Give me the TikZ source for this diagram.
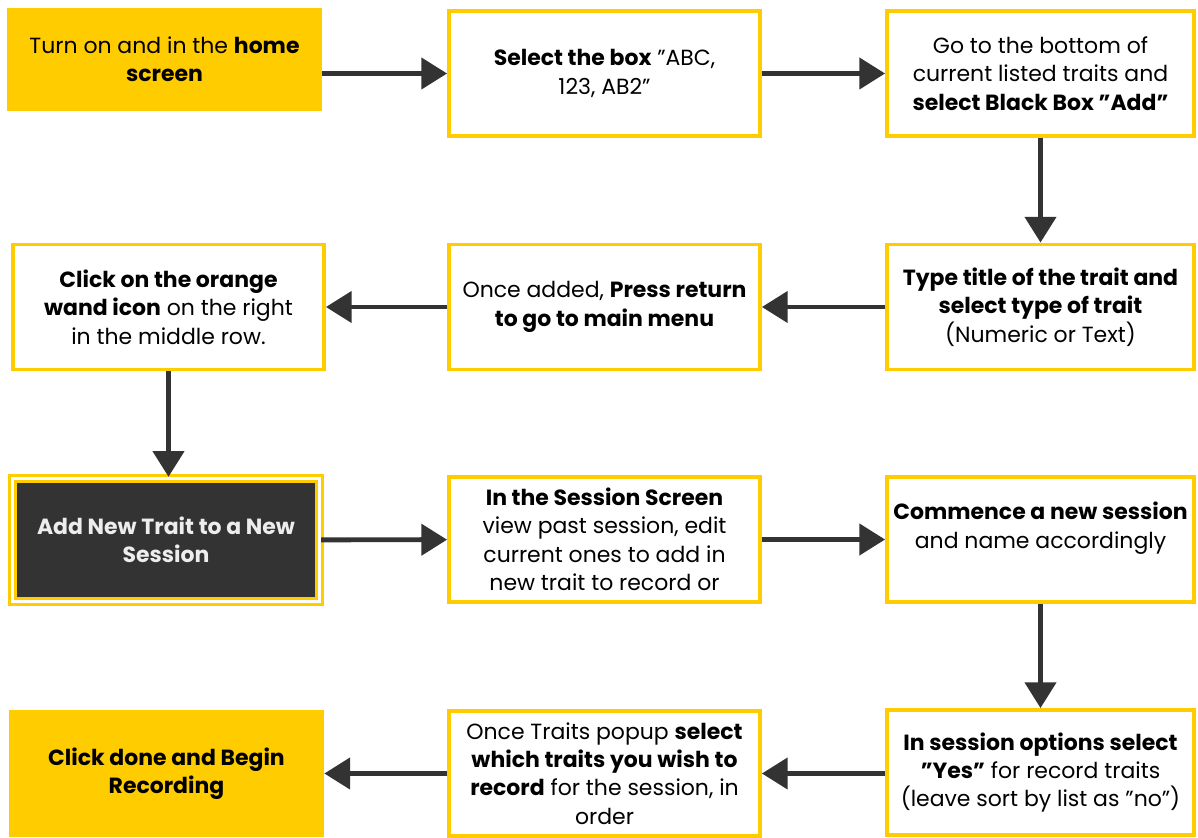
\documentclass[tikz,border=0pt]{standalone}
\usepackage{fontspec}
\setmainfont{Poppins}
\usetikzlibrary{arrows.meta}
\definecolor{gold}{HTML}{FFCC00}
\definecolor{charcoal}{HTML}{333333}
\begin{document}
\begin{tikzpicture}[x=0.02cm, y=-0.02cm,
    every node/.style={font=\fontsize{12.5}{16.2}\selectfont, align=center, inner sep=0pt},
    goldbox/.style={fill=gold, minimum width=6.3cm, minimum height=#1},
    stepbox/.style={draw=gold, line width=2.2pt, fill=white, minimum width=#1, minimum height=2.5cm},
    darkbox/.style={draw=gold, double=white, double distance=1.2pt, line width=1.9pt, fill=charcoal,
        text=white!93!black, font=\fontsize{12.5}{16.2}\selectfont\bfseries, minimum width=6.14cm, minimum height=2.46cm},
    flow/.style={draw=charcoal, line width=2.8pt, -{Triangle[length=14.7pt,width=17.6pt]}}]
    \useasboundingbox (0,0) rectangle (1198,838);

    % Row 1
    \node[goldbox=2.06cm] (home) at (164.5,59.5) {Turn on and in the \textbf{home}\\ \textbf{screen}};
    \node[stepbox=6.22cm] (selbox) at (604.5,73.5) {\textbf{Select the box} "ABC,\\ 123, AB2"};
    \node[stepbox=6.14cm] (bottom) at (1040.5,73.5) {Go to the bottom of\\ current listed traits and\\ \textbf{select Black Box "Add"}};

    % Row 2
    \node[stepbox=6.14cm] (title) at (1040.5,307) {\textbf{Type title of the trait and}\\ \textbf{select type of trait}\\ (Numeric or Text)};
    \node[stepbox=6.22cm] (ret) at (604.5,307) {Once added, \textbf{Press return}\\ \textbf{to go to main menu}};
    \node[stepbox=6.22cm] (wand) at (168.5,307) {\textbf{Click on the orange}\\ \textbf{wand icon} on the right\\ in the middle row.};

    % Row 3
    \node[darkbox] (newtrait) at (166,540) {Add New Trait to a New\\ Session};
    \node[stepbox=6.22cm] (screen) at (604.5,539.5) {\textbf{In the Session Screen}\\ view past session, edit\\ current ones to add in\\ new trait to record or};
    \node[stepbox=6.14cm] (commence) at (1040.5,539.5) {\textbf{Commence a new session}\\ and name accordingly\\ \mbox{}};

    % Row 4
    \node[stepbox=6.14cm] (options) at (1040.5,772.5) {\textbf{In session options select}\\ \textbf{"Yes"} for record traits\\ (leave sort by list as "no")};
    \node[stepbox=6.22cm] (popup) at (604.5,773.5) {Once Traits popup \textbf{select}\\ \textbf{which traits you wish to}\\ \textbf{record} for the session, in\\ order};
    \node[goldbox=2.54cm] (done) at (166.5,773.5) {\textbf{Click done and Begin}\\ \textbf{Recording}};

    % Arrows
    \draw[flow] (home.east |- selbox.west) -- (selbox.west);
    \draw[flow] (selbox) -- (bottom);
    \draw[flow] (bottom) -- (title);
    \draw[flow] (title) -- (ret);
    \draw[flow] (ret) -- (wand);
    \draw[flow] (wand.south) -- (wand.south |- newtrait.north);
    \draw[flow] (newtrait) -- (screen);
    \draw[flow] (screen) -- (commence);
    \draw[flow] (commence.south) -- (commence.south |- options.north);
    \draw[flow] (options.west |- popup) -- (popup);
    \draw[flow] (popup) -- (done);
\end{tikzpicture}
\end{document}
